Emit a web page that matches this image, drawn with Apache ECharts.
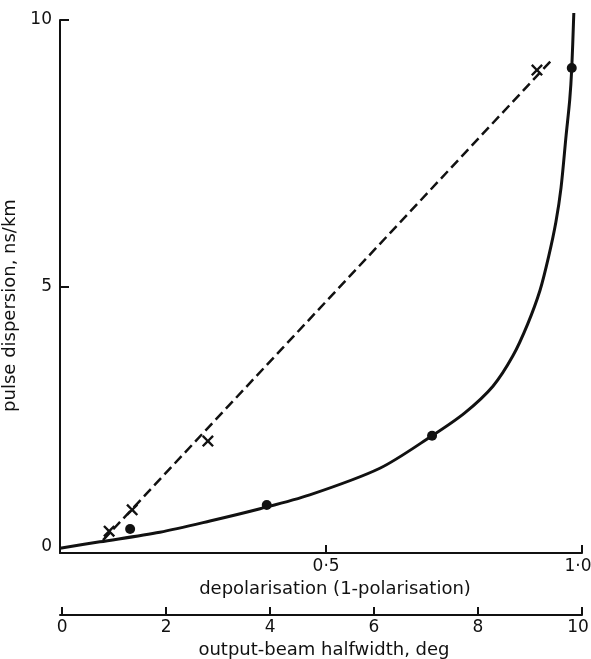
<!DOCTYPE html>
<html lang="en">
<head>
    <meta charset="UTF-8">
    <title>pulse dispersion</title>
    <script src="https://cdn.jsdelivr.net/npm/echarts@6/dist/echarts.min.js"></script>
    <style>
        html, body { margin: 0; padding: 0; background: #fff; }
        #main { width: 591px; height: 659px; }
    </style>
</head>
<body>
    <div id="main"></div>
    <script>
        // measured points (depolarisation, ns/km)
        var crossX = [0.076, 0.121, 0.269, 0.912];
        var crossY = [0.41, 0.81, 2.10, 9.06];
        var dotX = [0.117, 0.384, 0.707, 0.980];
        var dotY = [0.45, 0.90, 2.20, 9.10];
        // dashed straight line
        var dashX = [0.064, 0.941];
        var dashY = [0.24, 9.25];
        // solid curve
        var curveX = [-0.02, 0.058, 0.175, 0.273, 0.371, 0.468, 0.605, 0.707, 0.771, 0.826, 0.865, 0.894, 0.918, 0.935, 0.949, 0.959, 0.969, 0.976, 0.980, 0.984];
        var curveY = [0.09, 0.21, 0.39, 0.60, 0.83, 1.09, 1.59, 2.20, 2.63, 3.13, 3.70, 4.30, 4.93, 5.57, 6.21, 6.85, 7.84, 8.50, 9.10, 10.13];
        // tick labels
        var yTicks = [0, 5, 10];
        var depolTicks = [0.5, 1.0];
        var depolLabels = ['0·5', '1·0'];
        var widthTicks = [0, 2, 4, 6, 8, 10];

        function pairs(xs, ys) {
            var out = [];
            for (var i = 0; i < xs.length; i++) out.push([xs[i], ys[i]]);
            return out;
        }

        var font = 'DejaVu Sans';
        var ink = '#111';
        var crossPath = 'path://M0,1.4L1.4,0L5,3.6L8.6,0L10,1.4L6.4,5L10,8.6L8.6,10L5,6.4L1.4,10L0,8.6L3.6,5Z';
        // last label at the right edge is pulled in a little
        var edgeRich = { e: { fontFamily: font, fontSize: 17, color: ink, padding: [0, 8, 0, 0] } };

        var myChart = echarts.init(document.getElementById('main'));
        var option = {
            animation: false,
            backgroundColor: '#fff',
            grid: { left: 60, right: 9, top: 20, bottom: 106, containLabel: false, outerBoundsMode: 'none' },
            xAxis: [{
                type: 'value',
                min: -0.02,
                max: 1.0,
                position: 'bottom',
                splitLine: { show: false },
                axisLine: { onZero: false, lineStyle: { color: ink, width: 2 } },
                axisTick: { inside: true, length: 8, customValues: depolTicks, lineStyle: { color: ink, width: 2 } },
                axisLabel: {
                    customValues: depolTicks,
                    margin: 5,
                    color: ink, fontFamily: font, fontSize: 17,
                    formatter: function (v) {
                        var s = depolLabels[depolTicks.indexOf(v)];
                        return v === 1 ? '{e|' + s + '}' : s;
                    },
                    rich: edgeRich
                },
                name: 'depolarisation (1-polarisation)',
                nameLocation: 'middle',
                nameGap: 27,
                nameTextStyle: { color: ink, fontFamily: font, fontSize: 18, padding: [0, 0, 0, 28] }
            }, {
                type: 'value',
                min: -0.04,
                max: 10,
                position: 'bottom',
                offset: 62,
                splitLine: { show: false },
                axisLine: { onZero: false, lineStyle: { color: ink, width: 2 } },
                axisTick: { inside: true, length: 8, customValues: widthTicks, lineStyle: { color: ink, width: 2 } },
                axisLabel: {
                    customValues: widthTicks,
                    margin: 4,
                    color: ink, fontFamily: font, fontSize: 17,
                    formatter: function (v) { return v === 10 ? '{e|10}' : String(v); },
                    rich: edgeRich
                },
                name: 'output-beam halfwidth, deg',
                nameLocation: 'middle',
                nameGap: 24,
                nameTextStyle: { color: ink, fontFamily: font, fontSize: 18, padding: [0, 0, 0, 6] }
            }],
            yAxis: {
                type: 'value',
                min: 0,
                max: 10,
                interval: 5,
                splitLine: { show: false },
                axisLine: { onZero: false, lineStyle: { color: ink, width: 2 } },
                axisTick: { inside: true, length: 9, lineStyle: { color: ink, width: 2 } },
                axisLabel: {
                    margin: 8,
                    color: ink, fontFamily: font, fontSize: 17,
                    formatter: function (v) { return v === 0 ? '{z|0}' : String(v); },
                    rich: { z: { fontFamily: font, fontSize: 17, color: ink, padding: [0, 0, 12, 0] } }
                },
                name: 'pulse dispersion, ns/km',
                nameLocation: 'middle',
                nameGap: 29,
                nameTextStyle: { color: ink, fontFamily: font, fontSize: 18, padding: [0, 38, 0, 0] }
            },
            series: [{
                name: 'curve',
                type: 'line',
                data: pairs(curveX, curveY),
                smooth: 0.3,
                showSymbol: false,
                clip: false,
                lineStyle: { color: ink, width: 3 }
            }, {
                name: 'dashed',
                type: 'line',
                data: pairs(dashX, dashY),
                showSymbol: false,
                lineStyle: { color: ink, width: 2.5, type: [10, 5] }
            }, {
                name: 'crosses',
                type: 'scatter',
                data: pairs(crossX, crossY),
                symbol: crossPath,
                symbolSize: 12,
                itemStyle: { color: ink, opacity: 1 }
            }, {
                name: 'dots',
                type: 'scatter',
                data: pairs(dotX, dotY),
                symbol: 'circle',
                symbolSize: 10,
                itemStyle: { color: ink, opacity: 1 }
            }]
        };
        myChart.setOption(option);
    </script>
</body>
</html>
